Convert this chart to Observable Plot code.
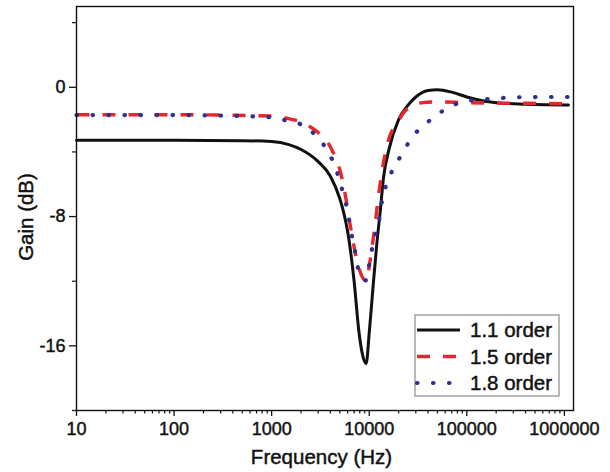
<!DOCTYPE html>
<html><head><meta charset="utf-8">
<script src="https://cdn.jsdelivr.net/npm/d3@7"></script>
<script src="https://cdn.jsdelivr.net/npm/@observablehq/plot@0.6"></script>
<style>
body{margin:0;background:#fff;}
#chart svg{font-family:"Liberation Sans",Arial,sans-serif;}
#chart svg text{stroke:#111;stroke-width:0.45px;paint-order:stroke;}
</style>
</head><body><div id="chart"></div>
<script>
// ---- data ----
const seriesNames = ["1.1 order", "1.5 order", "1.8 order"];
const seriesColors = ["#111111", "#e8262b", "#2f3090"];

const freq11 = [10, 100, 500, 1000, 1500, 2000, 3000, 4000, 5000, 5500, 6000, 7000, 7800, 8500, 9300, 10000, 11100, 12000, 13000, 14000, 16000, 20000, 25000, 30000, 40000, 50000, 70000, 100000, 150000, 200000, 400000, 1000000, 1100000];
const gain11 = [-3.28, -3.28, -3.3, -3.36, -3.55, -3.85, -4.6, -5.5, -6.9, -7.8, -8.9, -12.0, -15.0, -16.5, -17.1, -15.2, -11.9, -9.6, -7.6, -5.6, -3.8, -2.0, -1.1, -0.6, -0.2, -0.15, -0.3, -0.6, -0.85, -0.95, -1.05, -1.1, -1.1];

const freq15 = [10, 100, 1000, 1600, 2000, 3000, 3600, 4500, 5000, 5500, 6500, 7600, 9000, 9300, 10100, 11300, 12700, 13500, 15700, 19900, 23000, 34000, 50000, 100000, 1000000, 1100000];
const gain15 = [-1.7, -1.7, -1.78, -1.98, -2.15, -2.8, -3.25, -4.35, -5.1, -6.2, -8.8, -10.9, -11.95, -12.0, -10.9, -8.8, -6.3, -5.2, -3.3, -2.1, -1.5, -0.96, -0.9, -0.95, -1.02, -1.03];

const freq18 = [10, 100, 1000, 1400, 2000, 2900, 3800, 4500, 5100, 6100, 6500, 7100, 7500, 8400, 9300, 9900, 10600, 11700, 12800, 13500, 14800, 16500, 21800, 27500, 39000, 56000, 78000, 100000, 200000, 300000, 1000000, 1100000];
const gain18 = [-1.72, -1.72, -1.85, -2.05, -2.3, -3.05, -4.0, -4.95, -6.0, -7.9, -8.9, -10.0, -10.9, -11.8, -11.95, -11.1, -10.1, -9.0, -8.0, -7.05, -6.1, -5.4, -4.1, -3.1, -2.2, -1.48, -1.03, -0.85, -0.7, -0.62, -0.6, -0.6];

const xTickValues = [10, 100, 1000, 10000, 100000, 1000000];
const xTickLabels = ["10", "100", "1000", "10000", "100000", "1000000"];
const yTickValues = [-16, -8, 0];
const yTickLabels = ["-16", "-8", "0"];
const yMinorValues = [-20, -12, -4, 4];

// ---- build tables ----
const toRows = (f, g, name) => f.map((x, i) => ({freq: x, gain: g[i], series: name}));
const d11 = toRows(freq11, gain11, seriesNames[0]);
const d15 = toRows(freq15, gain15, seriesNames[1]);
const d18 = toRows(freq18, gain18, seriesNames[2]);

// minor log ticks (2..9 within each decade)
const xMinorValues = [];
for (let i = 0; i < xTickValues.length; i++) {
  for (let m = 2; m <= 9; m++) xMinorValues.push(xTickValues[i] * m);
}
const xMinorShown = xMinorValues.filter(v => v <= 1240000);

const W = 610, H = 472;
const mL = 76, mR = 37, mT = 6, mB = 62;

const plot = Plot.plot({
  width: W, height: H,
  marginLeft: mL, marginRight: mR, marginTop: mT, marginBottom: mB,
  style: {fontSize: "18px", fontFamily: '"Liberation Sans", Arial, sans-serif', color: "#111", background: "#fff"},
  x: {type: "log", domain: [10, 1240000]},
  y: {domain: [-20, 5]},
  marks: [
    Plot.axisX({ticks: xMinorShown, tickSize: 3.5, tickFormat: () => "", label: null, strokeWidth: 1.2}),
    Plot.axisX({ticks: xTickValues, tickSize: 6, tickPadding: 6, tickFormat: d => xTickLabels[xTickValues.indexOf(d)], label: null, strokeWidth: 1.3, fontSize: 18}),
    Plot.axisY({ticks: yMinorValues, tickSize: 4, tickFormat: () => "", label: null, strokeWidth: 1.2}),
    Plot.axisY({ticks: yTickValues, tickSize: 7, tickPadding: 4, tickFormat: d => yTickLabels[yTickValues.indexOf(d)], label: null, strokeWidth: 1.3, fontSize: 18}),
    Plot.line(d11, {x: "freq", y: "gain", stroke: seriesColors[0], strokeWidth: 3, curve: "monotone-x"}),
    Plot.line(d15, {x: "freq", y: "gain", stroke: seriesColors[1], strokeWidth: 3.4, strokeDasharray: "13,13", strokeLinecap: "butt", curve: "monotone-x"}),
    Plot.line(d18, {x: "freq", y: "gain", stroke: seriesColors[2], strokeWidth: 4.2, strokeDasharray: "0.5,15.5", strokeLinecap: "round", curve: "monotone-x"}),
    Plot.frame({stroke: "#111", strokeWidth: 1.4})
  ]
});

document.getElementById("chart").appendChild(plot);

// ---- axis titles & legend ----
const svg = d3.select(plot);
const plotLeft = mL, plotRight = W - mR, plotTop = mT, plotBottom = H - mB;

svg.append("text")
  .attr("x", (plotLeft + plotRight) / 2 - 3)
  .attr("y", 464)
  .attr("text-anchor", "middle")
  .attr("font-size", 20.5)
  .attr("fill", "#111")
  .text("Frequency (Hz)");

svg.append("text")
  .attr("transform", `translate(33,${(plotTop + plotBottom) / 2 + 9}) rotate(-90)`)
  .attr("text-anchor", "middle")
  .attr("font-size", 20.5)
  .attr("fill", "#111")
  .text("Gain (dB)");

const lg = svg.append("g").attr("transform", `translate(${plotRight - 158},${plotBottom - 95})`);
lg.append("rect").attr("x", 0).attr("y", 0).attr("width", 144).attr("height", 81)
  .attr("fill", "#fff").attr("stroke", "#8a8a8a").attr("stroke-width", 1.2);
const dashes = [null, "13,13", "0.5,15.5"];
const widths = [3, 3.4, 4.2];
const caps = ["butt", "butt", "round"];
seriesNames.forEach((name, i) => {
  const yy = 15 + i * 26.5;
  lg.append("line").attr("x1", 2).attr("x2", 45).attr("y1", yy).attr("y2", yy)
    .attr("stroke", seriesColors[i]).attr("stroke-width", widths[i])
    .attr("stroke-dasharray", dashes[i]).attr("stroke-linecap", caps[i]);
  lg.append("text").attr("x", 55).attr("y", yy).attr("dy", "0.35em")
    .attr("text-anchor", "start")
    .attr("font-size", 20.5).attr("fill", "#111").text(name);
});
</script>
</body></html>
